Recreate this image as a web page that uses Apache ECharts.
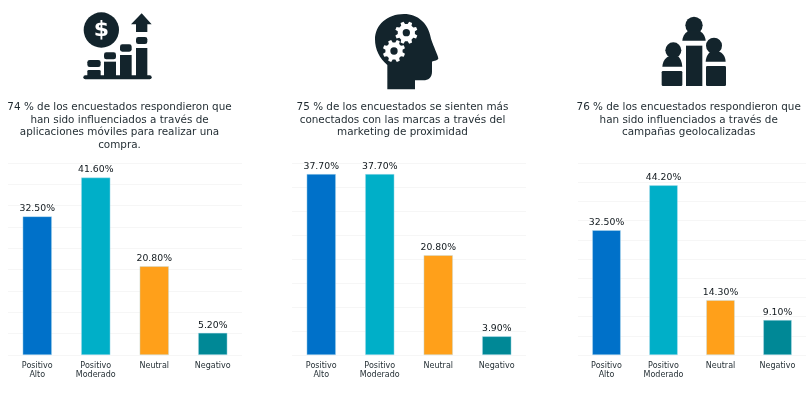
<!DOCTYPE html>
<html>
<head>
<meta charset="utf-8">
<style>html,body{margin:0;padding:0;background:#fff;overflow:hidden}#c{width:806px;height:394px}</style>
<script src="https://cdn.jsdelivr.net/npm/echarts@6/dist/echarts.min.js"></script>
</head>
<body>
<div id="c"></div>
<script>
const categories = ['Positivo\nAlto', 'Positivo\nModerado', 'Neutral', 'Negativo'];
const barColors = ['#0071c9', '#00afc8', '#ffa01a', '#008896'];
const valuesApps = [32.5, 41.6, 20.8, 5.2];
const valuesMarketing = [37.7, 37.7, 20.8, 3.9];
const valuesGeo = [32.5, 44.2, 14.3, 9.1];
const axisMaxima = [45, 40, 50];
const headings = [
  '74 % de los encuestados respondieron que\nhan sido influenciados a través de\naplicaciones móviles para realizar una\ncompra.',
  '75 % de los encuestados se sienten más\nconectados con las marcas a través del\nmarketing de proximidad',
  '76 % de los encuestados respondieron que\nhan sido influenciados a través de\ncampañas geolocalizadas'
];
const allValues = [valuesApps, valuesMarketing, valuesGeo];
const gridLefts = [8, 292, 578];
const headingCenters = [119.5, 402.5, 688.7];

const FONT = '"DejaVu Sans", sans-serif';
const INK = '#13242c';

function r(x1, y1, x2, y2, fill, rad) {
  return {type: 'rect', shape: {x: x1, y: y1, width: x2 - x1, height: y2 - y1, r: rad === undefined ? 4 : rad}, style: {fill: fill || INK}};
}
function c(x, y, rad, fill) {
  return {type: 'circle', shape: {cx: x, cy: y, r: rad}, style: {fill: fill || INK}};
}
let shapeCount = 0;
function path(d, fill) {
  const name = 'iconShape' + (shapeCount++);
  echarts.graphic.registerShape(name, echarts.graphic.extendPath(d, {}));
  return {type: name, shape: {}, style: {fill: fill || INK}};
}
function gear(cx, cy, outer, inner, teeth) {
  let pts = [];
  for (let i = 0; i < teeth; i++) {
    const a = (i + 0.5) / teeth * 2 * Math.PI, w = Math.PI / teeth;
    [[a - w * 0.62, inner], [a - w * 0.36, outer], [a + w * 0.36, outer], [a + w * 0.62, inner]].forEach(p => {
      pts.push((cx + p[1] * Math.cos(p[0])).toFixed(1) + ' ' + (cy + p[1] * Math.sin(p[0])).toFixed(1));
    });
  }
  return 'M' + pts.join('L') + 'Z';
}
function icon(children, x) {
  return {type: 'group', x: x, y: 0, scaleX: 1 / 3, scaleY: 1 / 3, silent: true, children};
}

const icon1 = icon([
  c(304, 90, 53),
  {type: 'text', style: {x: 304, y: 90, text: '$', fill: '#fff', font: 'bold 66px ' + FONT, textAlign: 'center', textVerticalAlign: 'middle'}},
  r(250, 226, 455, 238, INK, 6),
  r(262, 180, 302, 201, INK, 7), r(262, 210, 302, 230),
  r(312, 157, 348, 178, INK, 7), r(312, 185, 348, 230, INK, 0),
  r(360, 133, 395, 155, INK, 7), r(360, 165, 395, 230, INK, 0),
  r(408, 111, 442, 132, INK, 7), r(408, 144, 442, 230, INK, 0),
  path('M425 40L455 73L442 73L442 96L408 96L408 73L393 73Z')
], 0);

const icon2 = icon([
  path('M322 268L322 195C298 175 285 148 285 118C285 75 322 42 372 42C415 42 445 72 452 112C454 125 475 168 475 175C475 181 462 183 456 185L456 215C456 232 445 241 430 241L405 241L405 268Z'),
  path(gear(379, 98, 34, 26, 8), '#fff'), c(379, 98, 11),
  path(gear(342, 153, 34, 26, 8), '#fff'), c(342, 153, 11)
], 280);

const icon3 = icon([
  c(432, 76, 26),
  path('M397 122C398 106 408 96 416 92L448 92C456 96 466 106 467 122Z'),
  r(408, 137, 457, 258, INK, 0),
  c(370, 151, 24),
  path('M337 200C338 184 346 174 354 170L386 170C390 174 396 184 397 200Z'),
  r(335, 213, 397, 258),
  c(492, 137, 24),
  path('M467 185C468 169 476 160 480 156L510 156C518 160 526 169 527 185Z'),
  r(468, 198, 528, 258)
], 550);

const option = {
  animation: false,
  backgroundColor: '#fff',
  title: headings.map((text, i) => ({
    text, left: headingCenters[i], top: 101, padding: 0, textAlign: 'center',
    textStyle: {fontFamily: FONT, fontSize: 10.4, fontWeight: 'normal', color: '#1f2a30', lineHeight: 12.7}
  })),
  graphic: [icon1, icon2, icon3],
  grid: gridLefts.map(left => ({left, top: 163, width: 234, height: 192})),
  xAxis: gridLefts.map((_, i) => ({
    gridIndex: i, type: 'category', data: categories,
    axisLine: {show: false}, axisTick: {show: false},
    axisLabel: {interval: 0, fontFamily: FONT, fontSize: 8, lineHeight: 9.3, color: '#1f2a30', margin: 6}
  })),
  yAxis: axisMaxima.map((max, i) => ({
    gridIndex: i, type: 'value', min: 0, max, interval: 5,
    axisLine: {show: false}, axisTick: {show: false}, axisLabel: {show: false},
    splitLine: {lineStyle: {color: '#f6f6f6', width: 1}}
  })),
  series: allValues.map((vals, i) => ({
    type: 'bar', xAxisIndex: i, yAxisIndex: i, barWidth: '50%',
    data: vals.map((v, k) => ({value: v, itemStyle: {color: barColors[k], borderColor: 'rgba(190,225,240,0.7)', borderWidth: 0.6}})),
    label: {show: true, position: 'top', distance: 3, formatter: p => p.value.toFixed(2) + '%', fontFamily: FONT, fontSize: 9.3, color: '#11191e'}
  }))
};
echarts.init(document.getElementById('c'), null, {renderer: 'canvas'}).setOption(option);
</script>
</body>
</html>
